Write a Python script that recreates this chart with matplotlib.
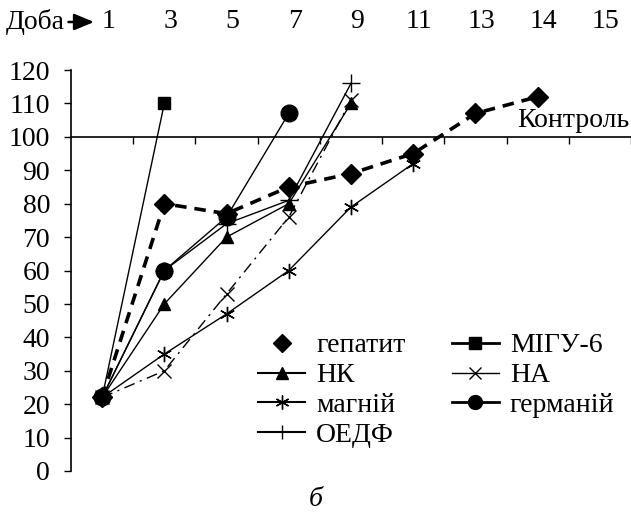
import numpy as np
import matplotlib
matplotlib.use("Agg")
import matplotlib.pyplot as plt
import matplotlib.transforms as mtransforms
from matplotlib.lines import Line2D

plt.rcParams['font.family'] = ['Liberation Serif', 'DejaVu Serif']
plt.rcParams['font.size'] = 20

# ---- data ----
days = ["1", "3", "5", "7", "9", "11", "13", "14", "15"]
hepatitis = [22, 80, 77, 85, 89, 95, 107, 112]
nk = [22, 50, 70, 80, 110]
magnesium = [22, 35, 47, 60, 79, 92]
oedf = [22, 60, 74, 81, 116]
migu6 = [22, 110]
na = [22, 30, 53, 76, 111]
germanium = [22, 60, 76, 107]
control = 100
yticks = list(range(0, 121, 10))

fig = plt.figure(figsize=(6.31, 5.20), dpi=100)
ax = fig.add_axes([71/631, 49/520, 560/631, 401/520])

x = np.arange(len(days))
k = dict(color='black')

ax.plot(x[:len(hepatitis)], hepatitis, linestyle=(0, (3.2, 2.2)), lw=2.6,
        marker='D', ms=10, **k, zorder=3)
ax.plot(x[:len(nk)], nk, '-', lw=1.0, marker='^', ms=9, **k, zorder=4)
ax.plot(x[:len(magnesium)], magnesium, '-', lw=1.0, marker=(6, 2, 0), ms=11,
        mew=1.0, **k, zorder=4)
ax.plot(x[:len(oedf)], oedf, '-', lw=1.0, marker='+', ms=13, mew=1.0, **k, zorder=4)
ax.plot(x[:len(migu6)], migu6, '-', lw=1.0, marker='s', ms=8, **k, zorder=4)
ax.plot(x[:len(na)], na, linestyle=(0, (8, 4, 1.5, 4)), lw=1.0, marker='x', ms=10,
        mew=1.0, **k, zorder=4)
ax.plot(x[:len(germanium)], germanium, '-', lw=1.0, marker='o', ms=12, **k, zorder=5)

ax.set_xlim(-0.5, len(days) - 0.5)
ax.set_ylim(0, 120)
ax.set_yticks(yticks)
ax.tick_params(axis='y', direction='out', length=5, width=1.0, pad=10)

# horizontal axis at control level
ax.spines['bottom'].set_position(('data', control))
ax.spines['top'].set_visible(False)
ax.spines['right'].set_visible(False)
ax.spines['left'].set_linewidth(1.2)
ax.spines['bottom'].set_linewidth(1.2)
ax.set_xticks(np.arange(0.5, len(days), 1.0))
ax.set_xticklabels([])
ax.tick_params(axis='x', direction='out', length=5, width=1.0)

# top day labels
trans = mtransforms.blended_transform_factory(ax.transData, fig.transFigure)
off = mtransforms.ScaledTranslation(6/100, 0, fig.dpi_scale_trans)
for xi, d in zip(x, days):
    ax.text(xi, 1 - 22/520, d, transform=trans + off, ha='center', va='center',
            clip_on=False)
ax.text(-0.6, 1 - 22/520, "Доба", transform=trans, ha='right', va='center',
        clip_on=False)
ax.annotate("", xy=(-0.13, 1 - 22/520), xytext=(-0.54, 1 - 22/520),
            xycoords=trans, textcoords=trans,
            arrowprops=dict(arrowstyle='-|>,head_length=0.6,head_width=0.25',
                            color='black', lw=1.8, shrinkA=0, shrinkB=0))

ax.text(len(days) - 0.53, control + 1.2, "Контроль", ha='right', va='bottom')

# legend
handles = [
    Line2D([], [], color='black', linestyle='none', marker='D', ms=9),
    Line2D([], [], color='black', lw=1.5, marker='^', ms=9),
    Line2D([], [], color='black', lw=1.5, marker=(6, 2, 0), ms=10, mew=1.0),
    Line2D([], [], color='black', lw=1.5, marker='|', ms=10, mew=1.0),
    Line2D([], [], color='black', lw=2.0, marker='s', ms=8),
    Line2D([], [], color='black', lw=1.0, marker='x', ms=9, mew=1.0),
    Line2D([], [], color='black', lw=2.0, marker='o', ms=10),
]
labels = ["гепатит", "НК", "магній", "ОЕДФ", "МІГУ-6", "НА", "германій"]
ax.legend(handles, labels, ncol=2, frameon=False, loc='upper left',
          bbox_to_anchor=(258/631, 1 - 333/520), bbox_transform=fig.transFigure,
          handlelength=1.7, handletextpad=0.4, labelspacing=0.16,
          columnspacing=1.65, borderaxespad=0, borderpad=0, fontsize=20)

fig.text(316/631, 1 - 500/520, "б", style='italic', ha='center', va='center')

fig.savefig("out.png", dpi=100)
